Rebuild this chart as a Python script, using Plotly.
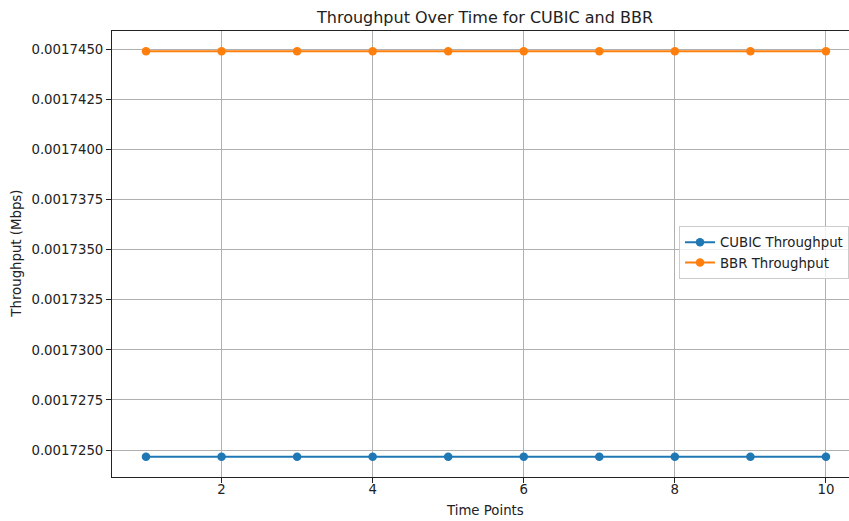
import plotly.graph_objects as go

# Sample index along the x axis
time_points = [1, 2, 3, 4, 5, 6, 7, 8, 9, 10]

# Measured throughput (Mbps) per time point
cubic_throughput = [0.00172467] * 10
bbr_throughput = [0.00174489] * 10

# Y ticks every 2.5e-9 Mbps
y_tick_vals = [0.0017250, 0.0017275, 0.0017300, 0.0017325, 0.0017350,
               0.0017375, 0.0017400, 0.0017425, 0.0017450]
x_tick_vals = [2, 4, 6, 8, 10]

BLUE = "#1f77b4"
ORANGE = "#ff7f0e"
FONT = "DejaVu Sans"
TEXT = "#222222"
BASE_SIZE = 13.3
TITLE_SIZE = 16

# 5% padding around the data, as matplotlib's autoscale does
y_lo = min(cubic_throughput + bbr_throughput)
y_hi = max(cubic_throughput + bbr_throughput)
y_pad = (y_hi - y_lo) * 0.05
x_pad = (max(time_points) - min(time_points)) * 0.05

fig = go.Figure()
fig.add_trace(go.Scatter(
    x=time_points, y=cubic_throughput, mode="lines+markers",
    name="CUBIC Throughput",
    line=dict(color=BLUE, width=2),
    marker=dict(color=BLUE, size=8.5),
))
fig.add_trace(go.Scatter(
    x=time_points, y=bbr_throughput, mode="lines+markers",
    name="BBR Throughput",
    line=dict(color=ORANGE, width=2),
    marker=dict(color=ORANGE, size=8.5),
))

axis_common = dict(
    automargin=False,
    showgrid=True, gridcolor="#b0b0b0", gridwidth=0.8,
    showline=True, linecolor=TEXT, linewidth=1,
    ticks="outside", ticklen=5, tickcolor=TEXT, tickwidth=1,
    zeroline=False,
    tickfont=dict(family=FONT, size=BASE_SIZE, color=TEXT),
)

fig.update_layout(
    width=849, height=521,
    margin=dict(l=112, r=0, t=31, b=44),
    paper_bgcolor="white", plot_bgcolor="white",
    font=dict(family=FONT, color=TEXT),
    title=dict(
        text="Throughput Over Time for CUBIC and BBR",
        font=dict(family=FONT, size=TITLE_SIZE, color=TEXT),
        xref="container", x=485 / 849, xanchor="center",
        yref="container", y=1 - 17 / 521, yanchor="middle",
    ),
    xaxis=dict(
        **axis_common,
        mirror=True,
        range=[min(time_points) - x_pad, 10.305],
        tickvals=x_tick_vals,
        ticklabelstandoff=-5,
    ),
    yaxis=dict(
        **axis_common,
        range=[y_lo - y_pad, y_hi + y_pad],
        tickvals=y_tick_vals,
        tickformat=".7f",
    ),
    legend=dict(
        x=1, y=(476.7 - 226) / 445.7,
        xanchor="right", yanchor="top",
        bgcolor="rgba(255,255,255,0.8)",
        bordercolor="#cccccc", borderwidth=1,
        font=dict(family=FONT, size=BASE_SIZE, color=TEXT),
        tracegroupgap=0,
    ),
    showlegend=True,
)

# Axis titles placed in pixel terms around the plot area
fig.add_annotation(
    text="Time Points", showarrow=False,
    xref="paper", x=(485 - 112) / 737, xanchor="center",
    yref="paper", y=-(510.5 - 476.7) / 445.7, yanchor="middle",
    font=dict(family=FONT, size=BASE_SIZE, color=TEXT),
)
fig.add_annotation(
    text="Throughput (Mbps)", showarrow=False, textangle=-90,
    xref="paper", x=-(112 - 17) / 737, xanchor="center",
    yref="paper", y=(476.7 - 253.5) / 445.7, yanchor="middle",
    font=dict(family=FONT, size=BASE_SIZE, color=TEXT),
)

fig.write_html("out.html")
